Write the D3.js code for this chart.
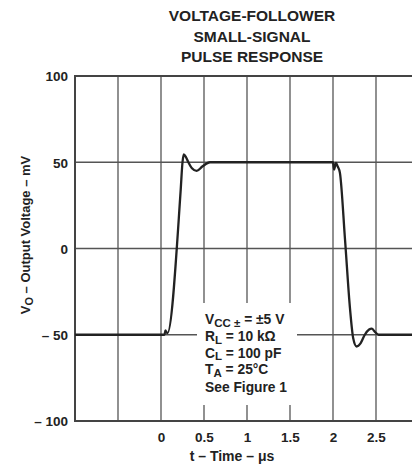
<!DOCTYPE html>
<html><head><meta charset="utf-8">
<script src="https://cdn.jsdelivr.net/npm/d3@7"></script>
<style>
body{margin:0;background:#fff;}
svg{display:block;}
text{font-family:"Liberation Sans",Arial,sans-serif;font-weight:bold;fill:#222;}
</style></head>
<body>
<svg id="c" width="412" height="469"></svg>
<script>
// Data
const timeUs = [-1, 0.04, 0.052, 0.062, 0.075, 0.229, 0.25, 0.265, 0.29, 0.318, 0.36, 0.415, 0.48, 0.57, 2.0, 2.012, 2.035, 2.055, 2.08, 2.14, 2.198, 2.235, 2.275, 2.32, 2.37, 2.42, 2.45, 2.49, 2.53, 3];
const voltageMv = [-50, -50, -47.5, -48.5, -49, 34, 50, 54.5, 53, 50, 46.5, 45, 47.5, 50, 50, 45.8, 49.6, 47.5, 44, 5, -35, -52, -56.8, -55, -50, -47, -46.5, -48.5, -50, -50];
const xTicks = [0, 0.5, 1, 1.5, 2, 2.5];
const xTickLabels = ["0", "0.5", "1", "1.5", "2", "2.5"];
const xGrid = [-0.5, 0, 0.5, 1, 1.5, 2, 2.5];
const yTicks = [100, 50, 0, -50, -100];
const yTickLabels = ["100", "50", "0", "\u2013 50", "\u2013 100"];
const yGrid = [50, 0, -50];
const titleLines = ["VOLTAGE-FOLLOWER", "SMALL-SIGNAL", "PULSE RESPONSE"];

const svg = d3.select("#c");
const x = d3.scaleLinear().domain([-1, 3]).range([75, 419]);
const y = d3.scaleLinear().domain([-100, 100]).range([421, 76]);

// gridlines
svg.append("g").selectAll("line").data(xGrid).join("line")
  .attr("x1", d => x(d)).attr("x2", d => x(d))
  .attr("y1", y(100)).attr("y2", y(-100))
  .attr("stroke", "#555").attr("stroke-width", 1.3);
svg.append("g").selectAll("line").data(yGrid).join("line")
  .attr("x1", x(-1)).attr("x2", x(3))
  .attr("y1", d => y(d)).attr("y2", d => y(d))
  .attr("stroke", "#555").attr("stroke-width", 1.3);

// legend box (hides grid)
svg.append("rect").attr("x", 197).attr("y", 303).attr("width", 100).attr("height", 102).attr("fill", "#fff");

// frame
svg.append("rect").attr("x", x(-1)).attr("y", y(100))
  .attr("width", x(3) - x(-1)).attr("height", y(-100) - y(100))
  .attr("fill", "none").attr("stroke", "#444").attr("stroke-width", 2);

// trace
const line = d3.line().x((d, i) => x(timeUs[i])).y(d => y(d)).curve(d3.curveMonotoneX);
svg.append("path").attr("d", line(voltageMv))
  .attr("fill", "none").attr("stroke", "#222").attr("stroke-width", 2.3)
  .attr("stroke-linejoin", "round");

// axes
const xAxis = d3.axisBottom(x).tickValues(xTicks).tickSize(0).tickPadding(0)
  .tickFormat((d, i) => xTickLabels[i]);
const gx = svg.append("g").attr("transform", `translate(0,${y(-100)})`).call(xAxis);
gx.select(".domain").remove();
gx.selectAll("text").attr("y", 21).attr("dy", 0).attr("font-size", 13.5).attr("font-family", null).attr("fill", "#222");

const yAxis = d3.axisLeft(y).tickValues(yTicks).tickSize(0).tickPadding(0)
  .tickFormat((d, i) => yTickLabels[i]);
const gy = svg.append("g").attr("transform", `translate(${x(-1) - 7},0)`).call(yAxis);
gy.select(".domain").remove();
gy.selectAll("text").attr("x", 0).attr("dy", "0.36em").attr("font-size", 13.5).attr("font-family", null).attr("fill", "#222");

// title
svg.append("g").selectAll("text").data(titleLines).join("text")
  .attr("x", 252).attr("y", (d, i) => 21 + i * 20.5)
  .attr("text-anchor", "middle").attr("font-size", 15.5)
  .text(d => d);

// x axis title
svg.append("text").attr("x", 232).attr("y", 461).attr("text-anchor", "middle")
  .attr("font-size", 14).text("t \u2013 Time \u2013 \u03bcs");

// y axis title
const yt = svg.append("text").attr("transform", "translate(30,235) rotate(-90)")
  .attr("text-anchor", "middle").attr("font-size", 13);
yt.append("tspan").text("V");
yt.append("tspan").attr("font-size", 11).attr("dy", 3).text("O");
yt.append("tspan").attr("dy", -3).text(" \u2013 Output Voltage \u2013 mV");

// legend text
const lg = svg.append("g").attr("font-size", 13.8);
function sub(yy, main, s, rest) {
  const t = lg.append("text").attr("x", 205).attr("y", yy);
  t.append("tspan").text(main);
  t.append("tspan").attr("font-size", 11.5).attr("dy", 2.5).text(s);
  t.append("tspan").attr("dy", -2.5).text(rest);
}
sub(324.3, "V", "CC \u00b1", " = \u00b15 V");
sub(341, "R", "L", " = 10 k\u03a9");
sub(357.7, "C", "L", " = 100 pF");
sub(374.4, "T", "A", " = 25\u00b0C");
lg.append("text").attr("x", 205).attr("y", 391.5).text("See Figure 1");
</script>
</body></html>
